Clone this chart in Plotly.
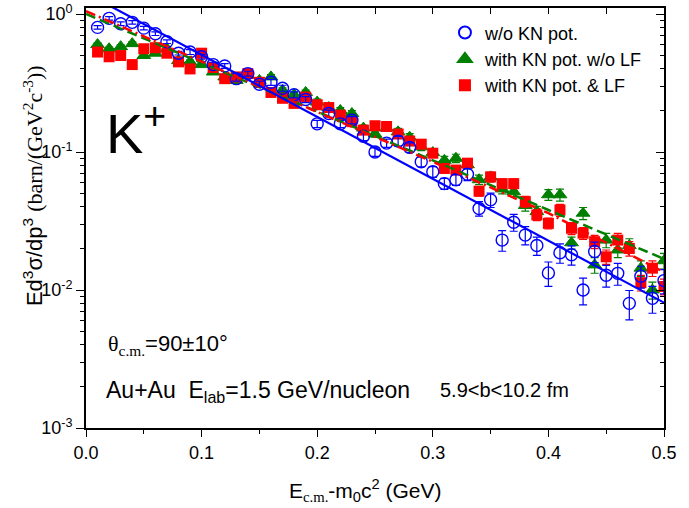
import plotly.graph_objects as go

# ---------------- data ----------------
E = [0.01, 0.02, 0.03, 0.04, 0.05, 0.06, 0.07, 0.08, 0.09, 0.10,
     0.11, 0.12, 0.13, 0.14, 0.15, 0.16, 0.17, 0.18, 0.19, 0.20,
     0.21, 0.22, 0.23, 0.24, 0.25, 0.26, 0.27, 0.28, 0.29, 0.30,
     0.31, 0.32, 0.33, 0.34, 0.35, 0.36, 0.37, 0.38, 0.39, 0.40,
     0.41, 0.42, 0.43, 0.44, 0.45, 0.46, 0.47, 0.48, 0.49, 0.50]

wo_kn = [0.80, 0.93, 0.85, 0.87, 0.79, 0.72, 0.63, 0.52, 0.53, 0.49,
         0.43, 0.42, 0.34, 0.37, 0.31, 0.32, 0.29, 0.26, 0.24, 0.16,
         0.19, 0.16, 0.17, 0.13, 0.10, 0.116, 0.12, 0.108, 0.085, 0.072,
         0.059, 0.063, 0.069, 0.039, 0.045, 0.023, 0.031, 0.025, 0.021, 0.0133,
         0.0186, 0.018, 0.010, 0.019, 0.0128, 0.0132, 0.0080, 0.0126, 0.0087, 0.0117]
wo_kn_err = [3, 3, 3, 3, 3, 3, 3, 3, 4, 4,
             4, 4, 4, 4, 5, 5, 5, 5, 5, 6,
             6, 6, 6, 7, 7, 7, 8, 8, 8, 9,
             9, 9, 10, 12, 12, 17, 14, 15, 15, 20,
             16, 16, 22, 17, 18, 18, 24, 18, 22, 20]

kn_nolf = [0.60, 0.56, 0.58, 0.61, 0.50, 0.52, 0.56, 0.46, 0.45, 0.43,
           0.38, 0.35, 0.33, 0.36, 0.33, 0.35, 0.28, 0.26, 0.27, 0.23,
           0.21, 0.20, 0.19, 0.149, 0.135, 0.149, 0.14, 0.128, 0.109, 0.099,
           0.087, 0.090, 0.081, 0.063, 0.066, 0.054, 0.0515, 0.041, 0.037, 0.049,
           0.049, 0.022, 0.036, 0.0152, 0.023, 0.0195, 0.021, 0.0144, 0.0100, 0.0163]
kn_nolf_err = [3, 3, 3, 3, 3, 3, 3, 3, 3, 3,
               3, 4, 4, 4, 4, 4, 4, 4, 4, 5,
               5, 5, 5, 5, 5, 5, 6, 6, 6, 6,
               7, 7, 7, 8, 8, 8, 8, 9, 9, 9,
               10, 10, 10, 13, 12, 12, 12, 13, 14, 13]

kn_lf = [0.53, 0.49, 0.50, 0.43, 0.56, 0.57, 0.52, 0.45, 0.40, 0.52,
         0.41, 0.34, 0.35, 0.37, 0.32, 0.27, 0.245, 0.225, 0.25, 0.22,
         0.21, 0.185, 0.166, 0.144, 0.155, 0.153, 0.135, 0.12, 0.114, 0.098,
         0.076, 0.074, 0.083, 0.052, 0.066, 0.059, 0.059, 0.0437, 0.035, 0.0304,
         0.038, 0.028, 0.0258, 0.0224, 0.0174, 0.023, 0.020, 0.0113, 0.0144, 0.0106]
kn_lf_err = [3, 3, 3, 3, 3, 3, 3, 3, 3, 3,
             3, 4, 4, 4, 4, 4, 4, 4, 4, 5,
             5, 5, 5, 5, 5, 5, 6, 6, 6, 6,
             7, 7, 7, 8, 8, 8, 8, 9, 9, 9,
             10, 10, 10, 11, 12, 12, 12, 13, 13, 13]

# fitted curves (read at a few energies)
fit_E = [0.0, 0.1, 0.2, 0.3, 0.4, 0.5]
fit_wo_kn = [1.418, 0.504, 0.179, 0.0636, 0.0226, 0.0081]
fit_kn_lf = [1.05, 0.45, 0.195, 0.085, 0.036, 0.0135]
fit_kn_nolf = [1.0, 0.443, 0.196, 0.087, 0.038, 0.0168]

y_tickvals = [1e-3, 1e-2, 1e-1, 1e0]
y_ticktext = ["10<sup>-3</sup>", "10<sup>-2</sup>", "10<sup>-1</sup>", "10<sup>0</sup>"]
y_minor = [k * 10.0 ** d for d in (-3, -2, -1) for k in range(2, 10)]

series_names = ["w/o KN pot.", "with KN pot. w/o LF", "with KN pot. & LF"]

# ---------------- figure ----------------
FONT = "Arial, 'Liberation Sans', sans-serif"
SERIF_SPAN = "<span style=\"font-family:Liberation Serif,Times New Roman,serif\">"
BLUE = "#0000FF"
GREEN = "#007F00"
RED = "#FF0000"

fig = go.Figure()


def abs_err(vals, pct):
    return [v * p / 100.0 for v, p in zip(vals, pct)]


fig.add_trace(go.Scatter(
    x=E, y=kn_nolf, mode="markers", name=series_names[1], legendrank=2,
    marker=dict(symbol="triangle-up", size=12, color=GREEN,
                line=dict(color=GREEN, width=1)),
    error_y=dict(type="data", array=abs_err(kn_nolf, kn_nolf_err),
                 color=GREEN, thickness=1.2, width=4),
))
fig.add_trace(go.Scatter(
    x=E, y=kn_lf, mode="markers", name=series_names[2], legendrank=3,
    marker=dict(symbol="square", size=11, color=RED,
                line=dict(color=RED, width=0)),
    error_y=dict(type="data", array=abs_err(kn_lf, kn_lf_err),
                 color=RED, thickness=1.2, width=4),
))
fig.add_trace(go.Scatter(
    x=E, y=wo_kn, mode="markers", name=series_names[0], legendrank=1,
    marker=dict(symbol="circle-open", size=12, color=BLUE,
                line=dict(color=BLUE, width=1.4)),
    error_y=dict(type="data", array=abs_err(wo_kn, wo_kn_err),
                 color=BLUE, thickness=1.2, width=4),
))

# fit lines
fig.add_trace(go.Scatter(x=fit_E, y=fit_kn_nolf, mode="lines", showlegend=False,
                         line=dict(color=GREEN, width=2.5, dash="10px,5px")))
fig.add_trace(go.Scatter(x=fit_E, y=fit_kn_lf, mode="lines", showlegend=False,
                         line=dict(color=RED, width=2.5, dash="10px,4px,2px,4px")))
fig.add_trace(go.Scatter(x=fit_E, y=fit_wo_kn, mode="lines", showlegend=False,
                         line=dict(color=BLUE, width=2.2)))

# dummy trace for mirror axes
fig.add_trace(go.Scatter(x=[None], y=[None], xaxis="x2", yaxis="y2",
                         showlegend=False, hoverinfo="skip"))

YR = [-3, 0.0435]

fig.update_layout(
    width=689, height=508,
    margin=dict(l=86, r=25, t=8, b=80, autoexpand=False),
    paper_bgcolor="white", plot_bgcolor="white",
    font=dict(family=FONT, size=18, color="black"),
    showlegend=True,
    legend=dict(x=0.621, y=0.985, xanchor="left", yanchor="top",
                bgcolor="rgba(0,0,0,0)", borderwidth=0,
                font=dict(family=FONT, size=18), traceorder="normal",
                itemsizing="constant", tracegroupgap=0),
    xaxis=dict(range=[0, 0.5], dtick=0.1, tick0=0, tickformat=".1f",
               ticks="outside", ticklen=7, tickwidth=1.3, tickcolor="black",
               showline=True, linewidth=1.8, linecolor="black",
               showgrid=False, zeroline=False, automargin=False,
               minor=dict(dtick=0.05, tick0=0, ticks="outside", ticklen=4,
                          tickwidth=1.2, tickcolor="black", showgrid=False),
               tickfont=dict(size=18)),
    yaxis=dict(type="log", range=YR, tickmode="array", tickvals=y_tickvals,
               ticktext=y_ticktext, ticks="outside", ticklen=8, tickwidth=1.3,
               tickcolor="black", showline=True, linewidth=1.8,
               linecolor="black", showgrid=False, zeroline=False,
               automargin=False,
               minor=dict(tickmode="array", tickvals=y_minor, ticks="outside",
                          ticklen=4, tickwidth=1.2, tickcolor="black",
                          showgrid=False),
               tickfont=dict(size=18)),
    xaxis2=dict(overlaying="x", side="top", anchor="y", range=[0, 0.5],
                dtick=0.05, tick0=0, ticks="inside", ticklen=6, tickwidth=1.3,
                tickcolor="black", showticklabels=False, showline=True,
                linewidth=1.8, linecolor="black", showgrid=False,
                zeroline=False, automargin=False),
    yaxis2=dict(overlaying="y", side="right", anchor="x", type="log",
                range=YR, tickmode="array", tickvals=y_tickvals,
                ticks="inside", ticklen=8, tickwidth=1.3, tickcolor="black",
                showticklabels=False, showline=True, linewidth=1.8,
                linecolor="black", showgrid=False, zeroline=False,
                automargin=False,
                minor=dict(tickmode="array", tickvals=y_minor, ticks="inside",
                           ticklen=4, tickwidth=1.2, tickcolor="black",
                           showgrid=False)),
)

annotations = [
    # y-axis title
    dict(text="Ed<sup>3</sup>σ/dp<sup>3</sup> " + SERIF_SPAN
         + "(barn/(GeV<sup>2</sup>c<sup>-3</sup>))</span>",
         xref="paper", yref="paper", x=-0.092, y=0.578, textangle=-90,
         xanchor="center", yanchor="middle", showarrow=False,
         font=dict(family=FONT, size=22)),
    # x-axis title
    dict(text="E" + SERIF_SPAN + "<sub>c.m.</sub></span>-m<sub>0</sub>c<sup>2</sup> (GeV)",
         xref="paper", yref="paper", x=0.483, y=-0.148,
         xanchor="center", yanchor="middle", showarrow=False,
         font=dict(family=FONT, size=21)),
    # K+
    dict(text="K<sup>+</sup>", xref="paper", yref="paper", x=0.032, y=0.71,
         xanchor="left", yanchor="middle", showarrow=False,
         font=dict(family=FONT, size=56)),
    # theta
    dict(text=SERIF_SPAN + "θ<sub>c.m.</sub></span>=90±10°",
         xref="paper", yref="paper", x=0.034, y=0.197,
         xanchor="left", yanchor="middle", showarrow=False,
         font=dict(family=FONT, size=22)),
    # Au+Au
    dict(text="Au+Au&nbsp;&nbsp;E<sub>lab</sub>=1.5 GeV/nucleon",
         xref="paper", yref="paper", x=0.032, y=0.088,
         xanchor="left", yanchor="middle", showarrow=False,
         font=dict(family=FONT, size=23)),
    dict(text="5.9&lt;b&lt;10.2 fm",
         xref="paper", yref="paper", x=0.609, y=0.090,
         xanchor="left", yanchor="middle", showarrow=False,
         font=dict(family=FONT, size=20)),
]
fig.update_layout(annotations=annotations)

fig.write_html("out.html", config={"displayModeBar": False},
               post_script="document.body.style.margin='0';")
